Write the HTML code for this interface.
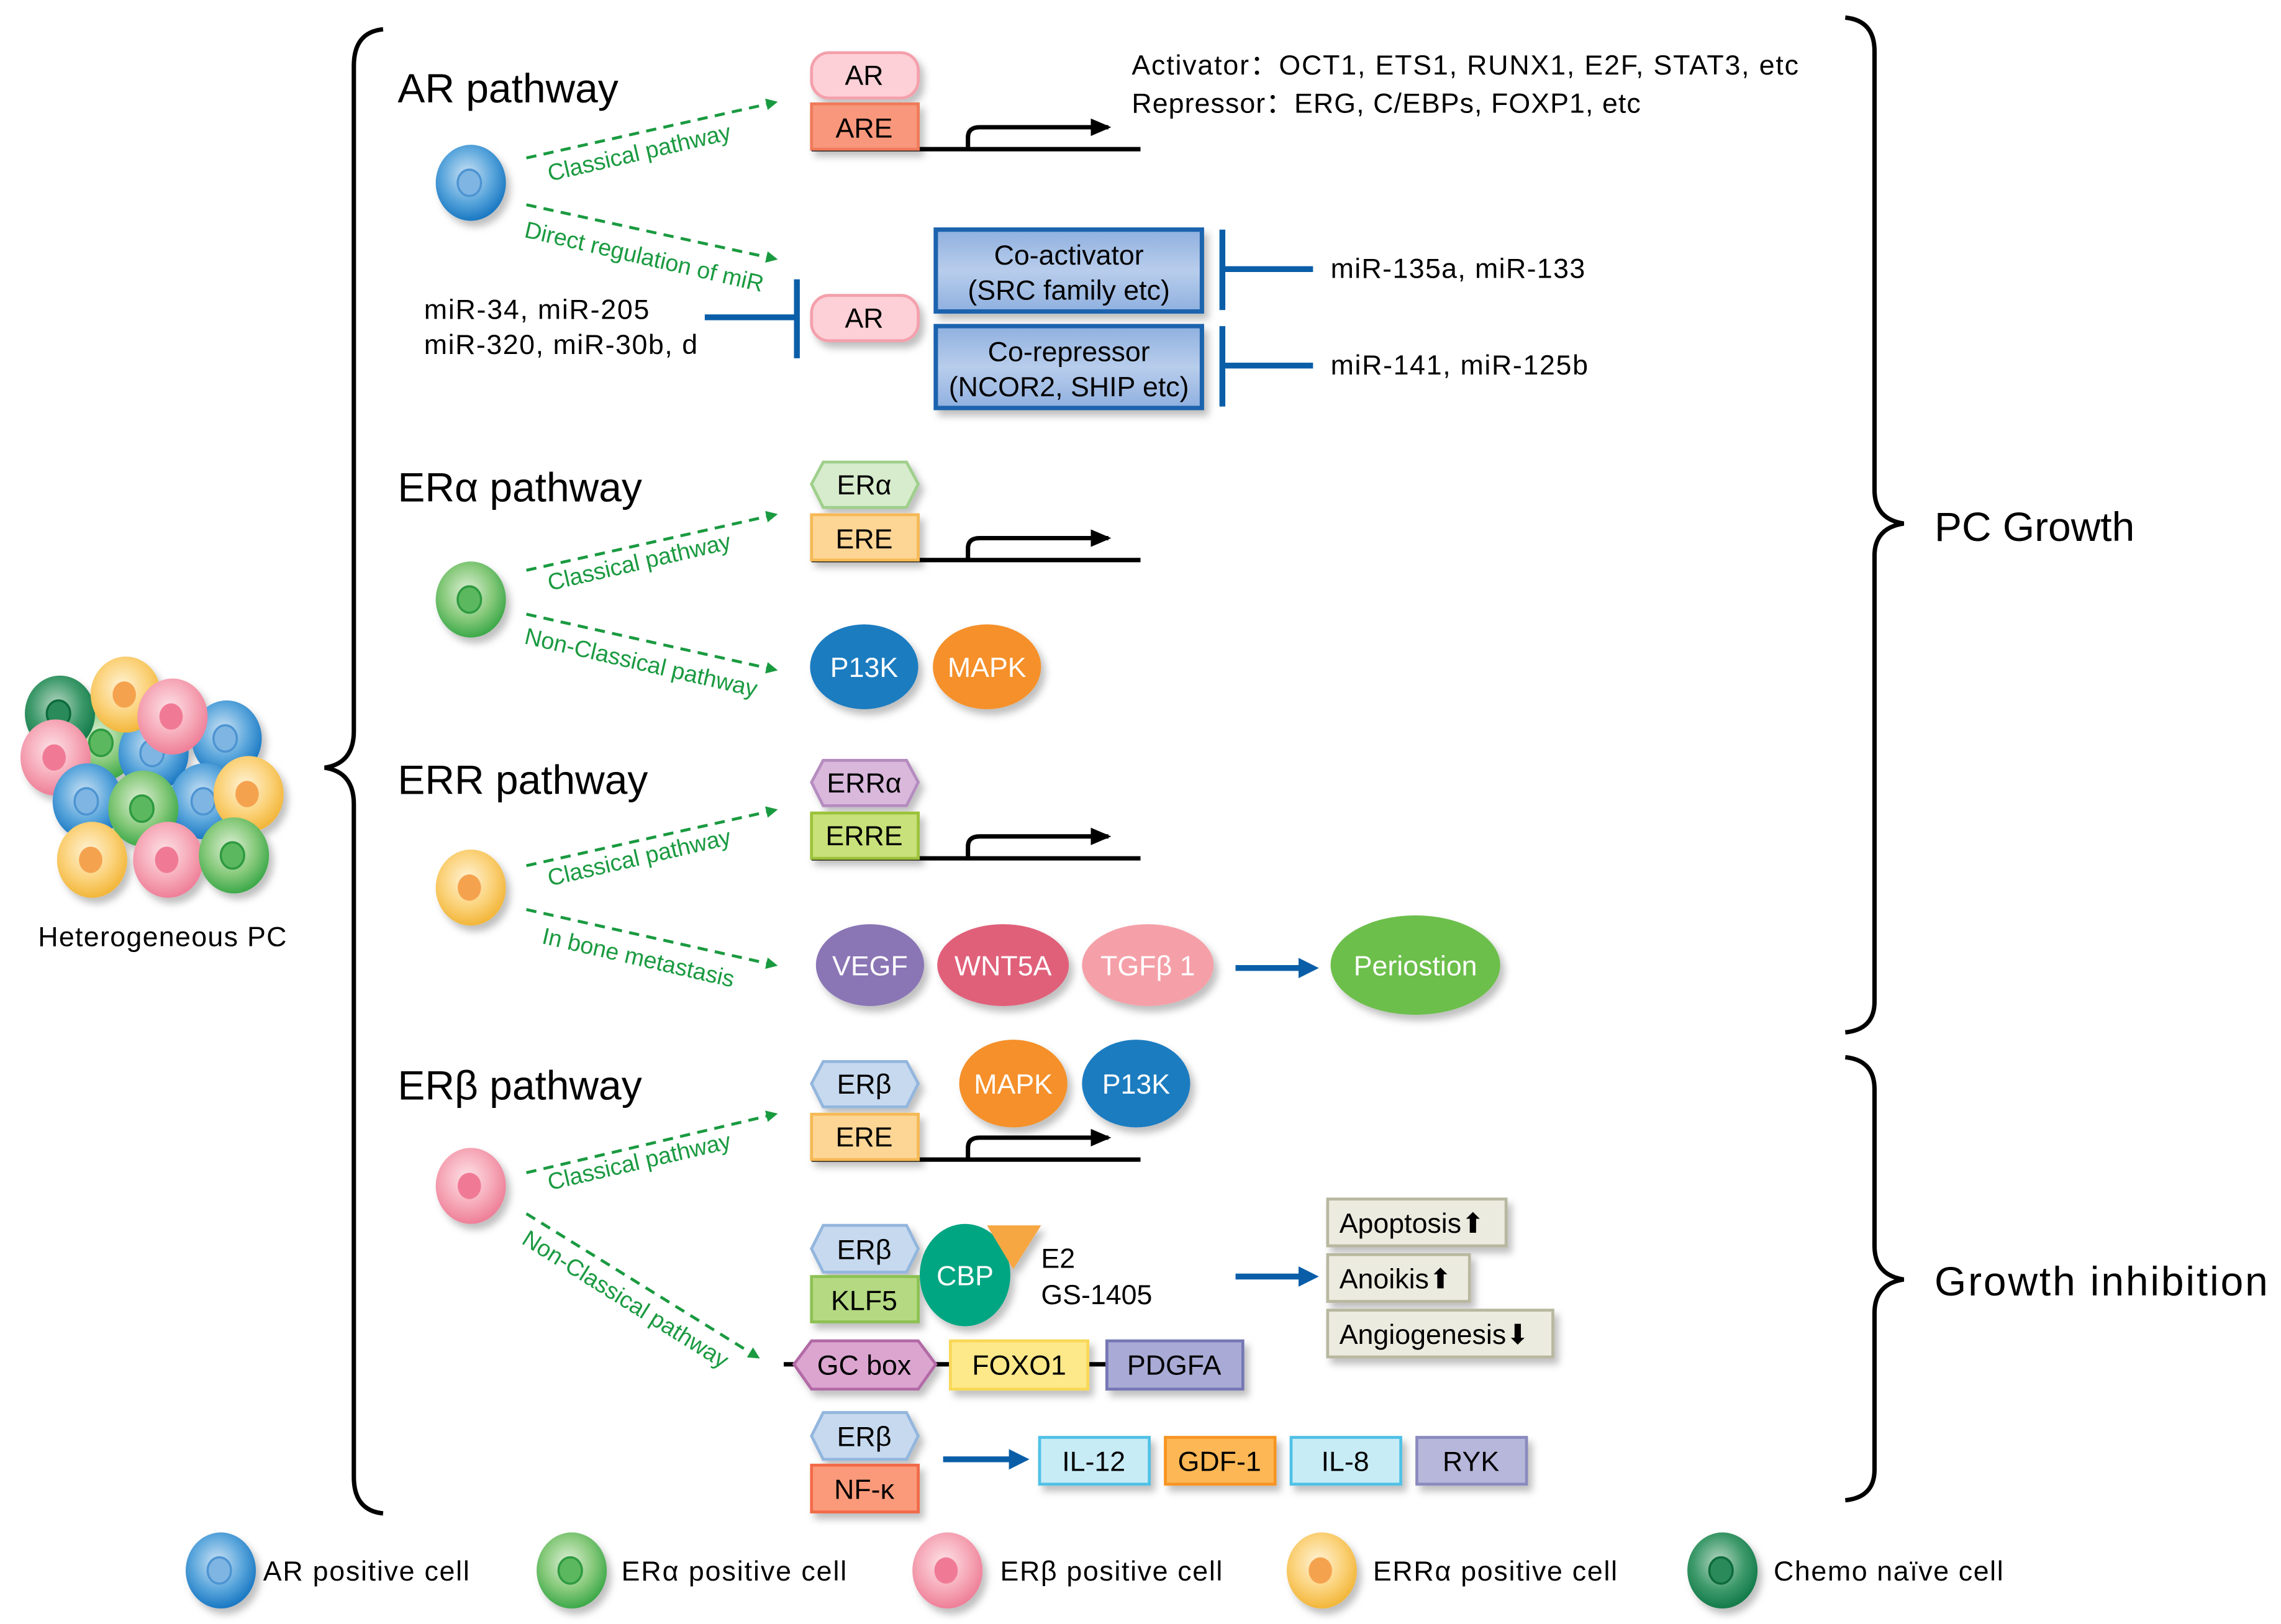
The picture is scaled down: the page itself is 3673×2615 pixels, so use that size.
<!DOCTYPE html>
<html><head><meta charset="utf-8"><style>
html,body{margin:0;padding:0;background:#fff;}
svg{display:block;}
text{font-family:"Liberation Sans",sans-serif;}
</style></head><body>
<svg width="3673" height="2615" viewBox="0 0 1560 1110.6" xmlns="http://www.w3.org/2000/svg">
<defs>
<filter id="sh" x="-20%" y="-20%" width="150%" height="160%"><feDropShadow dx="3" dy="4" stdDeviation="2.5" flood-color="#000" flood-opacity="0.25"/></filter>
<radialGradient id="gB" cx="45%" cy="40%" r="60%"><stop offset="0" stop-color="#cfe4f5"/><stop offset="0.6" stop-color="#5aa6dc"/><stop offset="1" stop-color="#1a78c2"/></radialGradient>
<radialGradient id="gG" cx="45%" cy="40%" r="60%"><stop offset="0" stop-color="#dff0d8"/><stop offset="0.6" stop-color="#86c97a"/><stop offset="1" stop-color="#3da94a"/></radialGradient>
<radialGradient id="gP" cx="45%" cy="40%" r="60%"><stop offset="0" stop-color="#fde3e8"/><stop offset="0.6" stop-color="#f6a9b8"/><stop offset="1" stop-color="#ee7f98"/></radialGradient>
<radialGradient id="gY" cx="45%" cy="40%" r="60%"><stop offset="0" stop-color="#fff4d8"/><stop offset="0.6" stop-color="#fbd27a"/><stop offset="1" stop-color="#f2b63a"/></radialGradient>
<radialGradient id="gD" cx="45%" cy="40%" r="60%"><stop offset="0" stop-color="#b9d8c6"/><stop offset="0.6" stop-color="#3e9a6a"/><stop offset="1" stop-color="#137a4a"/></radialGradient>
<linearGradient id="gBox" x1="0" y1="0" x2="0" y2="1"><stop offset="0" stop-color="#8fb0df"/><stop offset="0.5" stop-color="#b8cdec"/><stop offset="1" stop-color="#8fb0df"/></linearGradient>
<marker id="ga" markerWidth="8" markerHeight="8" refX="6" refY="4" orient="auto" markerUnits="userSpaceOnUse"><path d="M0,0 L8,4 L0,8 z" fill="#1a9a40"/></marker>
<marker id="ba" markerWidth="14" markerHeight="14" refX="10" refY="7" orient="auto" markerUnits="userSpaceOnUse"><path d="M0,0 L14,7 L0,14 z" fill="#0a5ea8"/></marker>
<marker id="ka" markerWidth="14" markerHeight="12" refX="12" refY="6" orient="auto" markerUnits="userSpaceOnUse"><path d="M0,0 L14,6 L0,12 z" fill="#000"/></marker>
<symbol id="cB" viewBox="-25 -27 50 54" overflow="visible"><ellipse rx="24" ry="26" fill="url(#gB)"/><ellipse cx="-1" cy="0" rx="8" ry="9" fill="#7fb5e2" stroke="#4d94d2" stroke-width="1.5"/></symbol>
<symbol id="cG" viewBox="-25 -27 50 54" overflow="visible"><ellipse rx="24" ry="26" fill="url(#gG)"/><ellipse cx="-1" cy="0" rx="8" ry="9" fill="#5bb85e" stroke="#2f9a40" stroke-width="1.5"/></symbol>
<symbol id="cP" viewBox="-25 -27 50 54" overflow="visible"><ellipse rx="24" ry="26" fill="url(#gP)"/><ellipse cx="-1" cy="0" rx="8" ry="9" fill="#f07a95"/></symbol>
<symbol id="cY" viewBox="-25 -27 50 54" overflow="visible"><ellipse rx="24" ry="26" fill="url(#gY)"/><ellipse cx="-1" cy="0" rx="8" ry="9" fill="#f5a250"/></symbol>
<symbol id="cD" viewBox="-25 -27 50 54" overflow="visible"><ellipse rx="24" ry="26" fill="url(#gD)"/><ellipse cx="-1" cy="0" rx="8" ry="9" fill="#2a8a5a" stroke="#0d6a3a" stroke-width="1.5"/></symbol>
</defs>

<!-- Heterogeneous cluster -->
<g filter="url(#sh)">
<use href="#cG" x="45" y="481" width="50" height="54"/>
<use href="#cB" x="80" y="488" width="50" height="54"/>
<use href="#cD" x="16" y="461" width="50" height="54"/>
<use href="#cY" x="61" y="448" width="50" height="54"/>
<use href="#cB" x="130" y="478" width="50" height="54"/>
<use href="#cP" x="93" y="463" width="50" height="54"/>
<use href="#cP" x="13" y="491" width="50" height="54"/>
<use href="#cB" x="115" y="521" width="50" height="54"/>
<use href="#cY" x="145" y="516" width="50" height="54"/>
<use href="#cB" x="35" y="521" width="50" height="54"/>
<use href="#cG" x="73" y="526" width="50" height="54"/>
<use href="#cY" x="38" y="561" width="50" height="54"/>
<use href="#cP" x="90" y="561" width="50" height="54"/>
<use href="#cG" x="135" y="558" width="50" height="54"/>
</g>
<text x="111" y="647" font-size="19" text-anchor="middle" textLength="170">Heterogeneous PC</text>

<!-- Braces -->
<g fill="none" stroke="#000" stroke-width="3">
<path d="M262,20 Q242,22 242,45 L242,500 Q242,522 222,525 Q242,528 242,550 L242,1010 Q242,1033 262,1035"/>
<path d="M1262,12 Q1282,14 1282,35 L1282,335 Q1282,355 1302,358 Q1282,361 1282,380 L1282,685 Q1282,704 1262,706"/>
<path d="M1262,723 Q1282,725 1282,745 L1282,852 Q1282,872 1302,875 Q1282,878 1282,898 L1282,1005 Q1282,1024 1262,1026"/>
</g>
<text x="1323" y="370" font-size="28">PC Growth</text>
<text x="1323" y="886" font-size="28" textLength="228">Growth inhibition</text>

<!-- Titles -->
<g font-size="28">
<text x="272" y="70">AR pathway</text>
<text x="272" y="343">ERα pathway</text>
<text x="272" y="543">ERR pathway</text>
<text x="272" y="752">ERβ pathway</text>
</g>

<!-- pathway cells -->
<g filter="url(#sh)">
<use href="#cB" x="297" y="98" width="50" height="54"/>
<use href="#cG" x="297" y="383" width="50" height="54"/>
<use href="#cY" x="297" y="580" width="50" height="54"/>
<use href="#cP" x="297" y="784" width="50" height="54"/>
</g>

<!-- Green dashed arrows -->
<g stroke="#1a9a40" stroke-width="2" stroke-dasharray="7,5" fill="none" marker-end="url(#ga)">
<line x1="360" y1="108" x2="530" y2="70"/>
<line x1="360" y1="140" x2="530" y2="177"/>
<line x1="360" y1="390" x2="530" y2="352"/>
<line x1="360" y1="420" x2="530" y2="458"/>
<line x1="360" y1="592" x2="530" y2="554"/>
<line x1="360" y1="622" x2="530" y2="660"/>
<line x1="360" y1="802" x2="530" y2="762"/>
<line x1="360" y1="830" x2="518" y2="928"/>
</g>
<g fill="#1a9a40" font-size="16">
<text transform="translate(376,124) rotate(-13)">Classical pathway</text>
<text transform="translate(358,162) rotate(13)">Direct regulation of miR</text>
<text transform="translate(376,404) rotate(-13)">Classical pathway</text>
<text transform="translate(358,440) rotate(13)">Non-Classical pathway</text>
<text transform="translate(376,606) rotate(-13)">Classical pathway</text>
<text transform="translate(370,645) rotate(13)">In bone metastasis</text>
<text transform="translate(376,814) rotate(-13)">Classical pathway</text>
<text transform="translate(356,850) rotate(32)">Non-Classical pathway</text>
</g>

<!-- DNA lines and promoter arrows -->
<g stroke="#000" stroke-width="3" fill="none">
<line x1="555" y1="102" x2="780" y2="102"/>
<line x1="555" y1="383" x2="780" y2="383"/>
<line x1="555" y1="587" x2="780" y2="587"/>
<line x1="555" y1="793" x2="780" y2="793"/>
<path d="M662,102 L662,94 Q662,87 670,87 L758,87" marker-end="url(#ka)"/>
<path d="M662,383 L662,375 Q662,368 670,368 L758,368" marker-end="url(#ka)"/>
<path d="M662,587 L662,579 Q662,572 670,572 L758,572" marker-end="url(#ka)"/>
<path d="M662,793 L662,785 Q662,778 670,778 L758,778" marker-end="url(#ka)"/>
<line x1="536" y1="933" x2="850" y2="933"/>
</g>

<g font-size="19" text-anchor="middle" filter="url(#sh)">
<rect x="555" y="36" width="73" height="31" rx="12" fill="#fcd0d6" stroke="#f4a0ac" stroke-width="2"/>
<rect x="555" y="71" width="73" height="31" fill="#f8977c" stroke="#ef7a5a" stroke-width="2"/>
<rect x="555" y="202" width="73" height="31" rx="12" fill="#fcd0d6" stroke="#f4a0ac" stroke-width="2"/>
<rect x="640" y="157" width="182" height="56" fill="url(#gBox)" stroke="#1a64ae" stroke-width="3"/>
<rect x="640" y="223" width="182" height="56" fill="url(#gBox)" stroke="#1a64ae" stroke-width="3"/>
<polygon points="563,316 620,316 628,331 620,347 563,347 555,331" fill="#d7eccc" stroke="#9fcf8c" stroke-width="2"/>
<rect x="555" y="352" width="73" height="31" fill="#fdd595" stroke="#f5b955" stroke-width="2"/>
<ellipse cx="591" cy="456" rx="37" ry="29" fill="#1a7bc0"/>
<ellipse cx="675" cy="456" rx="37" ry="29" fill="#f5902a"/>
<polygon points="563,520 620,520 628,535 620,551 563,551 555,535" fill="#d9b8dc" stroke="#b58cbf" stroke-width="2"/>
<rect x="555" y="556" width="73" height="31" fill="#c9e17a" stroke="#9cc23a" stroke-width="2"/>
<ellipse cx="595" cy="660" rx="37" ry="28" fill="#8a75b5"/>
<ellipse cx="686" cy="660" rx="45" ry="28" fill="#e0607a"/>
<ellipse cx="785" cy="660" rx="45" ry="28" fill="#f5a0a8"/>
<ellipse cx="968" cy="660" rx="58" ry="34" fill="#6cbf4c"/>
<polygon points="563,726 620,726 628,741 620,757 563,757 555,741" fill="#c6d9ef" stroke="#93b6dd" stroke-width="2"/>
<rect x="555" y="762" width="73" height="31" fill="#fdd595" stroke="#f5b955" stroke-width="2"/>
<ellipse cx="693" cy="741" rx="37" ry="30" fill="#f5902a"/>
<ellipse cx="777" cy="741" rx="37" ry="30" fill="#1a7bc0"/>
<polygon points="563,838 620,838 628,854 620,870 563,870 555,854" fill="#c6d9ef" stroke="#93b6dd" stroke-width="2"/>
<rect x="555" y="873" width="73" height="31" fill="#b5d982" stroke="#8cc152" stroke-width="2"/>
<ellipse cx="660" cy="872" rx="31" ry="35" fill="#05a582"/>
<polygon points="675,838 712,838 693,868" fill="#f7a743"/>
<rect x="908" y="820" width="122" height="32" fill="#ecebe0" stroke="#b8b8a0" stroke-width="2"/>
<rect x="908" y="858" width="97" height="32" fill="#ecebe0" stroke="#b8b8a0" stroke-width="2"/>
<rect x="908" y="896" width="154" height="32" fill="#ecebe0" stroke="#b8b8a0" stroke-width="2"/>
<polygon points="555,917 628,917 640,933 628,950 555,950 543,933" fill="#dba5d0" stroke="#b26aa6" stroke-width="2"/>
<rect x="650" y="917" width="94" height="33" fill="#fde98a" stroke="#f8d856" stroke-width="2"/>
<rect x="757" y="917" width="93" height="33" fill="#a9abd6" stroke="#7577b4" stroke-width="2"/>
<polygon points="563,966 620,966 628,982 620,998 563,998 555,982" fill="#c6d9ef" stroke="#93b6dd" stroke-width="2"/>
<rect x="555" y="1002" width="73" height="32" fill="#fb9a7a" stroke="#f26a4a" stroke-width="2"/>
<rect x="711" y="983" width="75" height="32" fill="#c8ecf6" stroke="#4fc1e6" stroke-width="2"/>
<rect x="797" y="983" width="75" height="32" fill="#fdb755" stroke="#f89420" stroke-width="2"/>
<rect x="883" y="983" width="75" height="32" fill="#c8ecf6" stroke="#4fc1e6" stroke-width="2"/>
<rect x="969" y="983" width="75" height="32" fill="#b7b7db" stroke="#8a8abf" stroke-width="2"/>
</g>

<g font-size="19" text-anchor="middle">
<text x="591" y="58">AR</text>
<text x="591" y="94">ARE</text>
<text x="591" y="224">AR</text>
<text x="731" y="181">Co-activator</text>
<text x="731" y="205">(SRC family etc)</text>
<text x="731" y="247">Co-repressor</text>
<text x="731" y="271">(NCOR2, SHIP etc)</text>
<text x="591" y="338">ERα</text>
<text x="591" y="375">ERE</text>
<text x="591" y="463" fill="#fff">P13K</text>
<text x="675" y="463" fill="#fff">MAPK</text>
<text x="591" y="542">ERRα</text>
<text x="591" y="578">ERRE</text>
<text x="595" y="667" fill="#fff">VEGF</text>
<text x="686" y="667" fill="#fff">WNT5A</text>
<text x="785" y="667" fill="#fff">TGFβ 1</text>
<text x="968" y="667" fill="#fff">Periostion</text>
<text x="591" y="748">ERβ</text>
<text x="591" y="784">ERE</text>
<text x="693" y="748" fill="#fff">MAPK</text>
<text x="777" y="748" fill="#fff">P13K</text>
<text x="591" y="861">ERβ</text>
<text x="591" y="896">KLF5</text>
<text x="660" y="879" fill="#fff">CBP</text>
<text x="591" y="940">GC box</text>
<text x="697" y="940">FOXO1</text>
<text x="803" y="940">PDGFA</text>
<text x="591" y="989">ERβ</text>
<text x="591" y="1025">NF-κ</text>
<text x="748" y="1006">IL-12</text>
<text x="834" y="1006">GDF-1</text>
<text x="920" y="1006">IL-8</text>
<text x="1006" y="1006">RYK</text>
</g>
<g font-size="19">
<text x="916" y="843">Apoptosis⬆</text>
<text x="916" y="881">Anoikis⬆</text>
<text x="916" y="919">Angiogenesis⬇</text>
<text x="712" y="867">E2</text>
<text x="712" y="892">GS-1405</text>
<text x="774" y="51" font-size="19" textLength="456">Activator：OCT1, ETS1, RUNX1, E2F, STAT3, etc</text>
<text x="774" y="77" font-size="19" textLength="348">Repressor：ERG, C/EBPs, FOXP1, etc</text>
<text x="290" y="218" font-size="19" textLength="154">miR-34, miR-205</text>
<text x="290" y="242" font-size="19" textLength="187">miR-320, miR-30b, d</text>
<text x="910" y="190" font-size="19" textLength="174">miR-135a, miR-133</text>
<text x="910" y="256" font-size="19" textLength="176">miR-141, miR-125b</text>
</g>

<!-- blue inhibitors & arrows -->
<g stroke="#0a5ea8" stroke-width="4" fill="none">
<line x1="482" y1="217" x2="545" y2="217"/>
<line x1="545" y1="191" x2="545" y2="245"/>
<line x1="836" y1="157" x2="836" y2="212"/>
<line x1="836" y1="184" x2="898" y2="184"/>
<line x1="836" y1="223" x2="836" y2="278"/>
<line x1="836" y1="250" x2="898" y2="250"/>
<line x1="845" y1="662" x2="898" y2="662" marker-end="url(#ba)"/>
<line x1="845" y1="873" x2="898" y2="873" marker-end="url(#ba)"/>
<line x1="645" y1="998" x2="700" y2="998" marker-end="url(#ba)"/>
</g>

<!-- Legend -->
<g filter="url(#sh)">
<use href="#cB" x="126" y="1047" width="50" height="54"/>
<use href="#cG" x="366" y="1047" width="50" height="54"/>
<use href="#cP" x="623" y="1047" width="50" height="54"/>
<use href="#cY" x="879" y="1047" width="50" height="54"/>
<use href="#cD" x="1153" y="1047" width="50" height="54"/>
</g>
<g font-size="19">
<text x="180" y="1081" textLength="141">AR positive cell</text>
<text x="425" y="1081" textLength="154">ERα positive cell</text>
<text x="684" y="1081" textLength="152">ERβ positive cell</text>
<text x="939" y="1081" textLength="167">ERRα positive cell</text>
<text x="1213" y="1081" textLength="157">Chemo naïve cell</text>
</g>
</svg>
</body></html>
